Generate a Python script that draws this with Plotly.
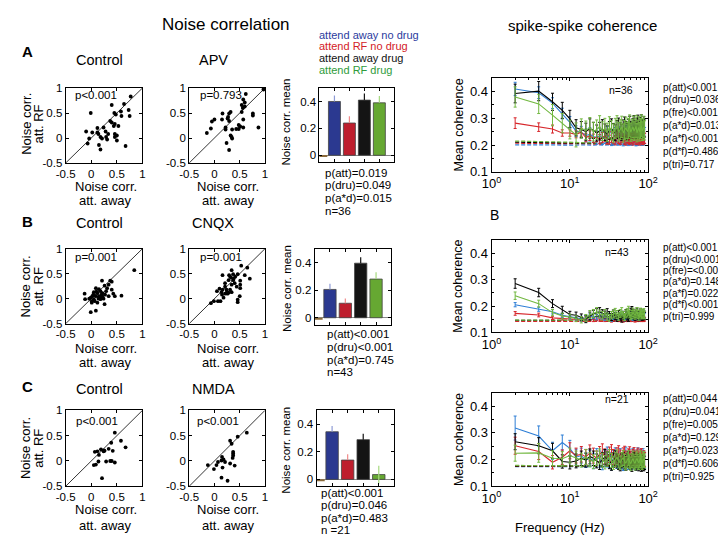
import plotly.graph_objects as go

W, H = 726, 535
FONT = "Liberation Sans, Arial, sans-serif"

# ---------------- data ----------------
# Scatter panels: x = noise corr. attend away, y = noise corr. attend RF
A_ctrl_x = [0.77, 0.40, 0.64, -0.01, 0.58, 0.73, 0.75, 0.59, 0.45, 0.48, 0.37, 0.40, 0.46, 0.44, 0.24, -0.10, 0.02, 0.12,
            0.14, 0.28, 0.33, 0.53, 0.46, 0.50, 0.46, 0.18, 0.21, 0.29, 0.31, -0.04, -0.07, 0.15, 0.18, 0.67, 0.50, 0.12]
A_ctrl_y = [0.83, 0.66, 0.68, 0.50, 0.53, 0.56, 0.44, 0.44, 0.50, 0.47, 0.34, 0.31, 0.28, 0.24, 0.21, 0.13, 0.11, 0.11,
            0.08, 0.13, 0.08, 0.24, 0.08, 0.05, 0.02, 0.02, -0.01, 0.02, -0.03, -0.01, -0.11, -0.14, -0.23, -0.16, -0.05, 0.20]
A_apv_x = [0.97, 0.62, 0.57, 0.60, 0.54, 0.60, 0.56, 0.76, 0.76, 0.54, 0.57, 0.32, 0.29, 0.16, 0.15, 0.00, -0.05, 0.26,
           0.29, -0.07, 0.22, 0.22, 0.35, 0.43, 0.48, 0.51, 0.57, 0.87, -0.15, 0.32, 0.35, 0.24, 0.29, 0.48, 0.27, 0.34]
A_apv_y = [0.97, 0.88, 0.77, 0.71, 0.66, 0.63, 0.60, 0.49, 0.45, 0.52, 0.37, 0.52, 0.49, 0.49, 0.37, 0.37, 0.33, 0.39,
           0.34, 0.19, 0.21, 0.17, 0.17, 0.18, 0.26, 0.23, 0.21, 0.21, 0.10, 0.05, -0.01, -0.10, -0.24, 0.18, 0.42, 0.02]
B_ctrl_x = [0.84, 0.59, 0.40, 0.37, 0.21, 0.34, 0.26, 0.40, 0.43, 0.31, 0.15, 0.09, 0.05, 0.12, 0.18, 0.22, 0.29, -0.13,
            -0.12, -0.01, 0.02, 0.09, 0.15, 0.22, 0.34, 0.24, 0.01, 0.07, 0.12, 0.01, 0.26, -0.01, 0.09, 0.18, 0.10, 0.05,
            0.14, 0.46, 0.27, 0.20, -0.04, 0.04, 0.16]
B_ctrl_y = [0.57, 0.06, 0.34, 0.36, 0.36, 0.28, 0.26, 0.18, 0.10, 0.21, 0.19, 0.21, 0.13, 0.11, 0.15, 0.11, 0.15, 0.10,
            -0.01, 0.02, 0.05, 0.05, 0.05, 0.04, 0.05, 0.00, -0.05, -0.05, -0.08, -0.08, -0.11, -0.27, -0.24, -0.01, 0.14,
            -0.01, 0.00, 0.05, 0.08, 0.08, 0.00, 0.08, 0.02]
B_cnqx_x = [0.53, 0.16, 0.34, 0.37, 0.41, 0.46, 0.31, 0.28, 0.37, 0.40, 0.51, 0.51, 0.51, 0.34, 0.21, 0.24, 0.31, 0.34,
            0.26, 0.21, 0.16, 0.14, 0.15, 0.18, 0.07, -0.01, -0.07, 0.12, 0.46, 0.46, 0.50, 0.29, 0.44, 0.21, 0.65, 0.70,
            0.60, 0.05, 0.28, 0.33, 0.38, 0.24, 0.10]
B_cnqx_y = [0.66, 0.47, 0.57, 0.49, 0.44, 0.49, 0.44, 0.37, 0.37, 0.31, 0.36, 0.28, 0.21, 0.28, 0.24, 0.18, 0.18, 0.13,
            0.10, 0.10, 0.18, 0.13, 0.08, 0.02, -0.05, -0.05, -0.09, -0.05, -0.07, -0.02, 0.05, 0.47, 0.24, 0.31, 0.62,
            0.40, 0.47, 0.15, 0.12, 0.42, 0.40, 0.12, 0.20]
C_ctrl_x = [0.46, 0.58, 0.67, 0.39, 0.34, 0.42, 0.24, 0.26, 0.19, 0.15, 0.07, 0.12, 0.14, 0.29, 0.37, 0.40, 0.46, 0.09,
            0.05, 0.21, 0.25]
C_ctrl_y = [0.56, 0.40, 0.27, 0.36, 0.24, 0.20, 0.19, 0.20, 0.23, 0.12, 0.18, 0.19, -0.01, -0.01, 0.00, 0.00, -0.03,
            -0.07, -0.08, -0.34, 0.21]
C_nmda_x = [0.64, 0.46, 0.31, 0.34, 0.37, 0.37, 0.36, 0.15, 0.18, 0.14, 0.21, 0.07, 0.04, -0.01, -0.13, 0.16, 0.31, 0.40,
            0.14, 0.26, 0.37]
C_nmda_y = [0.56, 0.48, 0.40, 0.34, 0.18, 0.11, 0.06, 0.08, 0.03, 0.01, -0.02, -0.02, -0.08, -0.16, -0.08, -0.13, -0.05,
            -0.09, -0.33, -0.39, 0.15]
DIAG = [-0.5, 1.0]
scatter_p = ["p<0.001", "p=0.793", "p=0.001", "p=0.001", "p<0.001", "p<0.001"]
scatter_titles = ["Control", "APV", "Control", "CNQX", "Control", "NMDA"]

# Bar panels (order: attend away no drug, attend RF no drug, attend away drug, attend RF drug)
bar_names = ["attend away no drug", "attend RF no drug", "attend away drug", "attend RF drug"]
bar_pos = [1, 2, 3, 4]
A_bar = [0.40, 0.24, 0.41, 0.39]
A_bar_err = [0.045, 0.05, 0.05, 0.05]
B_bar = [0.205, 0.105, 0.395, 0.28]
B_bar_err = [0.042, 0.035, 0.043, 0.05]
C_bar = [0.345, 0.14, 0.288, 0.035]
C_bar_err = [0.042, 0.043, 0.042, 0.063]
C_bar_err_minus = [0.0, 0.0, 0.0, 0.064]
stub_pos = [0.25]
stub_val = [-0.008]
A_stats = ["p(att)=0.019", "p(dru)=0.049", "p(a*d)=0.015", "n=36"]
B_stats = ["p(att)<0.001", "p(dru)<0.001", "p(a*d)=0.745", "n=43"]
C_stats = ["p(att)<0.001", "p(dru)=0.046", "p(a*d)=0.483", "n =21"]

# Spike-spike coherence
freqs = [2, 4, 6, 8, 10, 12, 14, 16, 18, 20, 22, 24, 26, 28, 30, 32, 34, 36, 38, 40, 42, 44, 46, 48, 50,
         52, 54, 56, 58, 60, 62, 64, 66, 68, 70, 72, 74, 76, 78, 80, 82, 84, 86, 88, 90]

c1_blue = [0.410, 0.396, 0.357, 0.318, 0.285, 0.252, 0.248, 0.236, 0.240, 0.232,
           0.228, 0.235, 0.226, 0.232, 0.240, 0.228, 0.222, 0.230, 0.236, 0.225,
           0.231, 0.238, 0.227, 0.222, 0.234, 0.241, 0.229, 0.224, 0.233, 0.238,
           0.226, 0.231, 0.242, 0.229, 0.223, 0.235, 0.240, 0.228, 0.232, 0.237,
           0.226, 0.234, 0.239, 0.230, 0.236]
c1_blue_err = [0.025, 0.022, 0.020, 0.020, 0.022, 0.020, 0.022, 0.024, 0.025, 0.022,
               0.025, 0.028, 0.024, 0.026, 0.030, 0.025, 0.024, 0.027, 0.030, 0.025,
               0.028, 0.030, 0.026, 0.025, 0.029, 0.032, 0.027, 0.026, 0.030, 0.031,
               0.026, 0.029, 0.033, 0.028, 0.026, 0.030, 0.032, 0.028, 0.029, 0.031,
               0.027, 0.030, 0.032, 0.029, 0.030]
c1_red = [0.282, 0.267, 0.260, 0.245, 0.245, 0.240, 0.248, 0.228, 0.235, 0.225,
          0.230, 0.222, 0.228, 0.235, 0.224, 0.220, 0.230, 0.226, 0.218, 0.232,
          0.225, 0.220, 0.228, 0.234, 0.222, 0.218, 0.230, 0.226, 0.220, 0.232,
          0.224, 0.218, 0.228, 0.234, 0.222, 0.220, 0.230, 0.225, 0.218, 0.228,
          0.232, 0.222, 0.220, 0.228, 0.225]
c1_red_err = [0.020, 0.016, 0.015, 0.012, 0.012, 0.013, 0.015, 0.016, 0.018, 0.016,
              0.018, 0.017, 0.019, 0.021, 0.018, 0.017, 0.020, 0.019, 0.017, 0.021,
              0.019, 0.018, 0.020, 0.022, 0.019, 0.018, 0.021, 0.020, 0.018, 0.022,
              0.019, 0.018, 0.021, 0.022, 0.019, 0.018, 0.021, 0.020, 0.018, 0.021,
              0.022, 0.019, 0.018, 0.020, 0.019]
c1_black = [0.393, 0.402, 0.362, 0.330, 0.298, 0.265, 0.258, 0.250, 0.262, 0.255,
            0.245, 0.252, 0.260, 0.248, 0.242, 0.255, 0.262, 0.250, 0.246, 0.258,
            0.265, 0.252, 0.248, 0.260, 0.268, 0.255, 0.250, 0.262, 0.270, 0.256,
            0.252, 0.264, 0.272, 0.258, 0.254, 0.266, 0.274, 0.260, 0.256, 0.268,
            0.275, 0.262, 0.258, 0.270, 0.264]
c1_black_err = [0.035, 0.036, 0.032, 0.030, 0.032, 0.030, 0.030, 0.032, 0.036, 0.030,
                0.030, 0.033, 0.035, 0.031, 0.030, 0.033, 0.036, 0.031, 0.030, 0.034,
                0.036, 0.032, 0.030, 0.034, 0.037, 0.033, 0.031, 0.035, 0.038, 0.033,
                0.031, 0.035, 0.038, 0.033, 0.031, 0.035, 0.038, 0.034, 0.032, 0.036,
                0.038, 0.034, 0.032, 0.036, 0.034]
c1_green = [0.380, 0.354, 0.312, 0.282, 0.258, 0.238, 0.262, 0.255, 0.265, 0.250,
            0.258, 0.270, 0.252, 0.262, 0.248, 0.266, 0.255, 0.245, 0.262, 0.270,
            0.250, 0.258, 0.268, 0.245, 0.256, 0.265, 0.250, 0.262, 0.272, 0.248,
            0.258, 0.268, 0.252, 0.260, 0.270, 0.246, 0.256, 0.266, 0.250, 0.262,
            0.272, 0.252, 0.260, 0.268, 0.255]
c1_green_err = [0.038, 0.036, 0.040, 0.036, 0.035, 0.045, 0.036, 0.035, 0.038, 0.035,
                0.036, 0.040, 0.035, 0.038, 0.034, 0.040, 0.036, 0.034, 0.038, 0.040,
                0.035, 0.037, 0.040, 0.034, 0.036, 0.040, 0.035, 0.038, 0.041, 0.034,
                0.037, 0.040, 0.035, 0.038, 0.041, 0.034, 0.037, 0.040, 0.035, 0.038,
                0.041, 0.035, 0.038, 0.040, 0.036]
c1_blue_d = [0.201, 0.200, 0.201, 0.200, 0.199, 0.200, 0.201, 0.200, 0.199, 0.200,
             0.201, 0.200, 0.199, 0.200, 0.201, 0.200, 0.199, 0.200, 0.201, 0.200,
             0.199, 0.200, 0.201, 0.200, 0.199, 0.200, 0.201, 0.200, 0.199, 0.200,
             0.201, 0.200, 0.199, 0.200, 0.201, 0.200, 0.199, 0.200, 0.201, 0.200,
             0.199, 0.200, 0.201, 0.200, 0.200]
c1_red_d = [0.207, 0.207, 0.206, 0.206, 0.206, 0.205, 0.205, 0.205, 0.205, 0.204,
            0.204, 0.204, 0.204, 0.204, 0.203, 0.203, 0.204, 0.203, 0.203, 0.203,
            0.203, 0.202, 0.203, 0.203, 0.202, 0.202, 0.203, 0.202, 0.202, 0.202,
            0.203, 0.202, 0.202, 0.202, 0.202, 0.201, 0.202, 0.202, 0.201, 0.202,
            0.202, 0.201, 0.202, 0.201, 0.201]
c1_black_d = [0.211, 0.210, 0.210, 0.209, 0.209, 0.208, 0.208, 0.208, 0.207, 0.207,
              0.207, 0.207, 0.206, 0.206, 0.206, 0.206, 0.206, 0.205, 0.206, 0.205,
              0.205, 0.205, 0.205, 0.205, 0.204, 0.205, 0.204, 0.204, 0.205, 0.204,
              0.204, 0.204, 0.204, 0.203, 0.204, 0.204, 0.203, 0.204, 0.203, 0.203,
              0.204, 0.203, 0.203, 0.203, 0.203]
c1_green_d = [0.215, 0.214, 0.213, 0.212, 0.211, 0.210, 0.209, 0.209, 0.208, 0.208,
              0.207, 0.207, 0.207, 0.206, 0.206, 0.206, 0.206, 0.205, 0.205, 0.205,
              0.205, 0.205, 0.204, 0.205, 0.204, 0.204, 0.204, 0.204, 0.204, 0.203,
              0.204, 0.203, 0.204, 0.203, 0.203, 0.203, 0.203, 0.203, 0.203, 0.202,
              0.203, 0.202, 0.203, 0.202, 0.202]

c2_blue = [0.205, 0.188, 0.178, 0.165, 0.158, 0.155, 0.152, 0.156, 0.160, 0.162,
           0.158, 0.165, 0.160, 0.155, 0.162, 0.158, 0.152, 0.160, 0.165, 0.158,
           0.155, 0.162, 0.168, 0.160, 0.154, 0.160, 0.165, 0.158, 0.162, 0.168,
           0.160, 0.155, 0.162, 0.166, 0.158, 0.164, 0.170, 0.160, 0.156, 0.164,
           0.168, 0.160, 0.165, 0.170, 0.162]
c2_blue_err = [0.008, 0.008, 0.008, 0.008, 0.008, 0.008, 0.009, 0.009, 0.010, 0.010,
               0.010, 0.011, 0.010, 0.010, 0.011, 0.010, 0.010, 0.011, 0.011, 0.010,
               0.010, 0.011, 0.012, 0.011, 0.010, 0.011, 0.012, 0.011, 0.011, 0.012,
               0.011, 0.010, 0.011, 0.012, 0.011, 0.011, 0.012, 0.011, 0.010, 0.011,
               0.012, 0.011, 0.011, 0.012, 0.011]
c2_red = [0.172, 0.166, 0.155, 0.153, 0.152, 0.150, 0.148, 0.152, 0.150, 0.148,
          0.152, 0.150, 0.155, 0.148, 0.152, 0.150, 0.146, 0.152, 0.155, 0.150,
          0.148, 0.152, 0.150, 0.146, 0.150, 0.154, 0.148, 0.150, 0.152, 0.148,
          0.150, 0.154, 0.150, 0.146, 0.150, 0.152, 0.148, 0.150, 0.154, 0.150,
          0.148, 0.152, 0.150, 0.148, 0.150]
c2_red_err = [0.007, 0.007, 0.006, 0.006, 0.006, 0.006, 0.006, 0.007, 0.007, 0.007,
              0.007, 0.007, 0.008, 0.007, 0.007, 0.007, 0.007, 0.008, 0.008, 0.007,
              0.007, 0.008, 0.007, 0.007, 0.007, 0.008, 0.007, 0.007, 0.008, 0.007,
              0.007, 0.008, 0.007, 0.007, 0.007, 0.008, 0.007, 0.007, 0.008, 0.007,
              0.007, 0.008, 0.007, 0.007, 0.007]
c2_black = [0.285, 0.251, 0.209, 0.185, 0.168, 0.165, 0.158, 0.150, 0.162, 0.170,
            0.175, 0.178, 0.172, 0.168, 0.175, 0.165, 0.158, 0.170, 0.162, 0.155,
            0.168, 0.160, 0.152, 0.165, 0.158, 0.170, 0.162, 0.155, 0.168, 0.175,
            0.180, 0.172, 0.165, 0.160, 0.170, 0.175, 0.165, 0.158, 0.168, 0.172,
            0.165, 0.160, 0.170, 0.165, 0.162]
c2_black_err = [0.018, 0.016, 0.015, 0.014, 0.012, 0.012, 0.012, 0.013, 0.015, 0.014,
                0.015, 0.016, 0.014, 0.013, 0.015, 0.014, 0.013, 0.015, 0.014, 0.013,
                0.015, 0.014, 0.013, 0.015, 0.014, 0.016, 0.015, 0.013, 0.015, 0.017,
                0.018, 0.016, 0.015, 0.014, 0.016, 0.017, 0.015, 0.014, 0.016, 0.017,
                0.015, 0.014, 0.016, 0.015, 0.014]
c2_green = [0.239, 0.209, 0.175, 0.162, 0.158, 0.152, 0.148, 0.155, 0.168, 0.172,
            0.178, 0.170, 0.165, 0.172, 0.160, 0.155, 0.165, 0.170, 0.175, 0.168,
            0.160, 0.172, 0.178, 0.165, 0.158, 0.170, 0.175, 0.182, 0.170, 0.162,
            0.168, 0.176, 0.170, 0.164, 0.172, 0.178, 0.168, 0.160, 0.170, 0.176,
            0.165, 0.172, 0.168, 0.174, 0.166]
c2_green_err = [0.014, 0.013, 0.012, 0.011, 0.011, 0.011, 0.012, 0.013, 0.015, 0.015,
                0.016, 0.015, 0.014, 0.015, 0.014, 0.013, 0.014, 0.015, 0.016, 0.015,
                0.014, 0.015, 0.016, 0.014, 0.013, 0.015, 0.016, 0.017, 0.015, 0.014,
                0.015, 0.016, 0.015, 0.014, 0.015, 0.016, 0.015, 0.014, 0.015, 0.016,
                0.014, 0.015, 0.015, 0.016, 0.015]
c2_blue_d = [0.144, 0.144, 0.143, 0.144, 0.143, 0.143, 0.144, 0.143, 0.143, 0.144,
             0.143, 0.143, 0.144, 0.143, 0.143, 0.144, 0.143, 0.143, 0.144, 0.143,
             0.143, 0.144, 0.143, 0.143, 0.144, 0.143, 0.143, 0.144, 0.143, 0.143,
             0.144, 0.143, 0.143, 0.144, 0.143, 0.143, 0.144, 0.143, 0.143, 0.144,
             0.143, 0.143, 0.144, 0.143, 0.143]
c2_red_d = [0.142, 0.142, 0.142, 0.141, 0.142, 0.142, 0.141, 0.142, 0.142, 0.141,
            0.142, 0.142, 0.141, 0.142, 0.142, 0.141, 0.142, 0.142, 0.141, 0.142,
            0.142, 0.141, 0.142, 0.142, 0.141, 0.142, 0.142, 0.141, 0.142, 0.142,
            0.141, 0.142, 0.142, 0.141, 0.142, 0.142, 0.141, 0.142, 0.142, 0.141,
            0.142, 0.142, 0.141, 0.142, 0.142]
c2_black_d = [0.146, 0.146, 0.145, 0.146, 0.145, 0.145, 0.146, 0.145, 0.145, 0.146,
              0.145, 0.145, 0.146, 0.145, 0.145, 0.146, 0.145, 0.145, 0.146, 0.145,
              0.145, 0.146, 0.145, 0.145, 0.146, 0.145, 0.145, 0.146, 0.145, 0.145,
              0.146, 0.145, 0.145, 0.146, 0.145, 0.145, 0.146, 0.145, 0.145, 0.146,
              0.145, 0.145, 0.146, 0.145, 0.145]
c2_green_d = [0.147, 0.147, 0.146, 0.146, 0.146, 0.146, 0.145, 0.146, 0.146, 0.145,
              0.146, 0.145, 0.146, 0.145, 0.145, 0.146, 0.145, 0.145, 0.146, 0.145,
              0.145, 0.146, 0.145, 0.145, 0.145, 0.146, 0.145, 0.145, 0.145, 0.146,
              0.145, 0.145, 0.145, 0.146, 0.145, 0.145, 0.145, 0.146, 0.145, 0.145,
              0.145, 0.146, 0.145, 0.145, 0.145]

c3_blue = [0.318, 0.288, 0.233, 0.264, 0.242, 0.209, 0.215, 0.198, 0.205, 0.195,
           0.210, 0.202, 0.190, 0.205, 0.215, 0.198, 0.188, 0.205, 0.212, 0.195,
           0.200, 0.210, 0.192, 0.186, 0.205, 0.215, 0.198, 0.190, 0.208, 0.200,
           0.192, 0.210, 0.204, 0.195, 0.188, 0.206, 0.212, 0.198, 0.192, 0.208,
           0.200, 0.194, 0.210, 0.202, 0.196]
c3_blue_err = [0.045, 0.038, 0.032, 0.028, 0.030, 0.030, 0.028, 0.027, 0.030, 0.029,
               0.031, 0.030, 0.028, 0.030, 0.032, 0.029, 0.027, 0.030, 0.032, 0.028,
               0.029, 0.031, 0.028, 0.027, 0.030, 0.032, 0.029, 0.027, 0.031, 0.030,
               0.028, 0.031, 0.030, 0.029, 0.027, 0.030, 0.032, 0.029, 0.028, 0.031,
               0.030, 0.028, 0.031, 0.030, 0.029]
c3_red = [0.252, 0.230, 0.190, 0.209, 0.233, 0.215, 0.220, 0.210, 0.225, 0.215,
          0.205, 0.220, 0.228, 0.212, 0.205, 0.218, 0.225, 0.210, 0.200, 0.215,
          0.222, 0.208, 0.200, 0.215, 0.220, 0.205, 0.198, 0.212, 0.218, 0.205,
          0.198, 0.210, 0.216, 0.204, 0.196, 0.208, 0.214, 0.202, 0.196, 0.208,
          0.212, 0.200, 0.195, 0.205, 0.200]
c3_red_err = [0.032, 0.030, 0.025, 0.027, 0.030, 0.028, 0.029, 0.028, 0.030, 0.028,
              0.027, 0.029, 0.031, 0.028, 0.027, 0.029, 0.031, 0.028, 0.026, 0.029,
              0.030, 0.028, 0.026, 0.029, 0.030, 0.027, 0.026, 0.028, 0.030, 0.027,
              0.026, 0.028, 0.029, 0.027, 0.026, 0.028, 0.029, 0.027, 0.026, 0.028,
              0.029, 0.027, 0.026, 0.028, 0.027]
c3_black = [0.267, 0.252, 0.233, 0.193, 0.190, 0.195, 0.205, 0.198, 0.212, 0.205,
            0.195, 0.188, 0.200, 0.210, 0.202, 0.192, 0.185, 0.198, 0.205, 0.195,
            0.188, 0.182, 0.195, 0.200, 0.190, 0.184, 0.196, 0.202, 0.192, 0.186,
            0.180, 0.194, 0.200, 0.190, 0.184, 0.196, 0.190, 0.182, 0.194, 0.188,
            0.180, 0.192, 0.186, 0.182, 0.188]
c3_black_err = [0.030, 0.030, 0.028, 0.025, 0.025, 0.026, 0.027, 0.026, 0.028, 0.027,
                0.026, 0.025, 0.027, 0.028, 0.027, 0.026, 0.025, 0.027, 0.028, 0.026,
                0.025, 0.024, 0.026, 0.027, 0.025, 0.024, 0.026, 0.027, 0.025, 0.024,
                0.024, 0.026, 0.027, 0.025, 0.024, 0.026, 0.025, 0.024, 0.026, 0.025,
                0.024, 0.026, 0.025, 0.024, 0.025]
c3_green = [0.224, 0.225, 0.205, 0.203, 0.215, 0.205, 0.198, 0.210, 0.200, 0.192,
            0.205, 0.212, 0.198, 0.190, 0.202, 0.210, 0.196, 0.188, 0.200, 0.208,
            0.195, 0.188, 0.200, 0.206, 0.194, 0.186, 0.198, 0.205, 0.192, 0.185,
            0.196, 0.204, 0.192, 0.186, 0.198, 0.204, 0.194, 0.188, 0.198, 0.205,
            0.194, 0.188, 0.198, 0.202, 0.195]
c3_green_err = [0.030, 0.035, 0.028, 0.027, 0.028, 0.027, 0.026, 0.028, 0.027, 0.026,
                0.027, 0.028, 0.026, 0.025, 0.027, 0.028, 0.026, 0.025, 0.027, 0.028,
                0.026, 0.025, 0.027, 0.028, 0.026, 0.025, 0.027, 0.028, 0.026, 0.025,
                0.026, 0.028, 0.026, 0.025, 0.027, 0.028, 0.026, 0.025, 0.027, 0.028,
                0.026, 0.025, 0.027, 0.028, 0.026]
c3_blue_d = [0.174, 0.174, 0.173, 0.174, 0.174, 0.173, 0.174, 0.174, 0.173, 0.174,
             0.174, 0.173, 0.174, 0.174, 0.173, 0.174, 0.174, 0.173, 0.174, 0.174,
             0.173, 0.174, 0.174, 0.173, 0.174, 0.174, 0.173, 0.174, 0.174, 0.173,
             0.174, 0.174, 0.173, 0.174, 0.174, 0.173, 0.174, 0.174, 0.173, 0.174,
             0.174, 0.173, 0.174, 0.174, 0.173]
c3_red_d = [0.175, 0.175, 0.175, 0.174, 0.175, 0.175, 0.174, 0.175, 0.175, 0.174,
            0.175, 0.175, 0.174, 0.175, 0.175, 0.174, 0.175, 0.175, 0.174, 0.175,
            0.175, 0.174, 0.175, 0.175, 0.174, 0.175, 0.175, 0.174, 0.175, 0.175,
            0.174, 0.175, 0.175, 0.174, 0.175, 0.175, 0.174, 0.175, 0.175, 0.174,
            0.175, 0.175, 0.174, 0.175, 0.175]
c3_black_d = [0.176, 0.176, 0.176, 0.175, 0.176, 0.176, 0.175, 0.176, 0.176, 0.175,
              0.176, 0.176, 0.175, 0.176, 0.176, 0.175, 0.176, 0.176, 0.175, 0.176,
              0.176, 0.175, 0.176, 0.176, 0.175, 0.176, 0.176, 0.175, 0.176, 0.176,
              0.175, 0.176, 0.176, 0.175, 0.176, 0.176, 0.175, 0.176, 0.176, 0.175,
              0.176, 0.176, 0.175, 0.176, 0.176]
c3_green_d = [0.178, 0.178, 0.177, 0.177, 0.177, 0.176, 0.177, 0.176, 0.176, 0.176,
              0.176, 0.176, 0.175, 0.176, 0.176, 0.175, 0.176, 0.176, 0.175, 0.176,
              0.176, 0.175, 0.176, 0.176, 0.175, 0.176, 0.176, 0.175, 0.176, 0.176,
              0.175, 0.176, 0.176, 0.175, 0.176, 0.176, 0.175, 0.176, 0.176, 0.175,
              0.176, 0.176, 0.175, 0.176, 0.176]

coh_ns = ["n=36", "n=43", "n=21"]
coh_stats = [
    ["p(att)<0.001", "p(dru)=0.036", "p(fre)<0.001", "p(a*d)=0.013", "p(a*f)<0.001", "p(d*f)=0.486", "p(tri)=0.717"],
    ["p(att)<0.001", "p(dru)<0.001", "p(fre)=<0.001", "p(a*d)=0.148", "p(a*f)=0.022", "p(d*f)<0.001", "p(tri)=0.999"],
    ["p(att)=0.044", "p(dru)=0.041", "p(fre)=0.005", "p(a*d)=0.129", "p(a*f)=0.023", "p(d*f)=0.606", "p(tri)=0.925"],
]

# ---------------- styling ----------------
BAR_COL = ["#2b3990", "#be1e2d", "#141414", "#66a832"]
BAR_ERR = ["#8e9bd6", "#f08a8a", "#141414", "#a6d97f"]
LEG_COL = ["#2b3b9e", "#d32027", "#111111", "#2e9b3a"]
COH_COL = {"blue": "#2f7fd6", "red": "#d7262b", "black": "#000000", "green": "#72b840"}


def px_dom(x0, x1, y0, y1):
    return [x0 / W, x1 / W], [1 - y1 / H, 1 - y0 / H]


fig = go.Figure()
layout = {}
annotations = []


def ann(text, x, y, size, color="black", xanchor="center", yanchor="middle", angle=0):
    annotations.append(dict(text=text, x=x / W, y=1 - y / H, xref="paper", yref="paper",
                            showarrow=False, xanchor=xanchor, yanchor=yanchor, textangle=angle,
                            borderpad=0, font=dict(family=FONT, size=size, color=color)))


def base_axis(dom, tickfont=11.5):
    return dict(domain=dom, showline=True, linecolor="black", linewidth=1, mirror="ticks",
                ticks="inside", ticklen=3, tickcolor="black", tickwidth=1, showgrid=False,
                zeroline=False, tickfont=dict(family=FONT, size=tickfont, color="black"), fixedrange=True)


def ax_name(i, kind):
    return kind + ("axis" if i == 1 else "axis%d" % i)


def ref(i, kind):
    return kind if i == 1 else kind + str(i)


# scatter panels
scat_boxes = [(49, 128, 76, 153), (176, 254, 76, 153), (49, 128, 241, 318),
              (176, 254, 241, 318), (49, 128, 407, 485), (176, 254, 407, 485)]
scat_data = [(A_ctrl_x, A_ctrl_y), (A_apv_x, A_apv_y), (B_ctrl_x, B_ctrl_y),
             (B_cnqx_x, B_cnqx_y), (C_ctrl_x, C_ctrl_y), (C_nmda_x, C_nmda_y)]
p_pos = [(58, 83), (186, 83), (58, 250), (186, 250), (59, 418), (183, 418)]
for k, (box, (sx, sy)) in enumerate(zip(scat_boxes, scat_data)):
    i = k + 1
    xd, yd = px_dom(*box)
    xa = base_axis(xd)
    xa.update(range=[-0.5, 1.0], tickvals=[-0.5, 0, 0.5, 1], ticktext=["-0.5", "0", "0.5", "1"],
              anchor=ref(i, "y"))
    ya = base_axis(yd)
    ya.update(range=[-0.5, 1.0], tickvals=[-0.5, 0, 0.5, 1], ticktext=["-0.5", "0", "0.5", "1"],
              anchor=ref(i, "x"))
    layout[ax_name(i, "x")] = xa
    layout[ax_name(i, "y")] = ya
    fig.add_trace(go.Scatter(x=DIAG, y=DIAG, mode="lines", line=dict(color="black", width=0.8),
                             xaxis=ref(i, "x"), yaxis=ref(i, "y"), hoverinfo="skip"))
    fig.add_trace(go.Scatter(x=sx, y=sy, mode="markers", marker=dict(size=3.8, color="black"),
                             xaxis=ref(i, "x"), yaxis=ref(i, "y")))
    ann(scatter_p[k], p_pos[k][0], p_pos[k][1], 11.5, xanchor="left")

# bar panels
bar_boxes = [(310, 387, 76, 152), (305, 384, 241, 319), (307, 387, 407, 485)]
bar_vals = [(A_bar, A_bar_err, [0, 0, 0, 0]), (B_bar, B_bar_err, [0, 0, 0, 0]),
            (C_bar, C_bar_err, C_bar_err_minus)]
for k, (box, (vals, eplus, eminus)) in enumerate(zip(bar_boxes, bar_vals)):
    i = 7 + k
    xd, yd = px_dom(*box)
    xa = base_axis(xd)
    xa.update(range=[0, 5], tickvals=bar_pos, showticklabels=False, anchor=ref(i, "y"))
    ya = base_axis(yd)
    ya.update(range=[-0.05, 0.5], tickvals=[0, 0.2, 0.4], ticktext=["0", "0.2", "0.4"],
              zeroline=True, zerolinecolor="#8a8a8a", zerolinewidth=1, anchor=ref(i, "x"))
    layout[ax_name(i, "x")] = xa
    layout[ax_name(i, "y")] = ya
    fig.add_trace(go.Bar(x=stub_pos, y=stub_val, width=0.55, marker=dict(color="#8a6a3a", line=dict(width=0)),
                         xaxis=ref(i, "x"), yaxis=ref(i, "y")))
    for j in range(4):
        fig.add_trace(go.Bar(x=[bar_pos[j]], y=[vals[j]], width=0.8, name=bar_names[j],
                             marker=dict(color=BAR_COL[j], line=dict(color="#444444", width=0.8)),
                             error_y=dict(type="data", array=[eplus[j]], arrayminus=[eminus[j]],
                                          color=BAR_ERR[j], thickness=1.2, width=0, symmetric=False),
                             xaxis=ref(i, "x"), yaxis=ref(i, "y")))

# coherence panels
coh_boxes = [(487, 648, 66, 162), (487, 648, 232, 327), (487, 648, 389, 485)]
coh_sets = [
    dict(solid=[("blue", c1_blue, c1_blue_err), ("red", c1_red, c1_red_err),
                ("black", c1_black, c1_black_err), ("green", c1_green, c1_green_err)],
         dashed=[("blue", c1_blue_d), ("red", c1_red_d), ("black", c1_black_d), ("green", c1_green_d)]),
    dict(solid=[("red", c2_red, c2_red_err), ("blue", c2_blue, c2_blue_err),
                ("black", c2_black, c2_black_err), ("green", c2_green, c2_green_err)],
         dashed=[("blue", c2_blue_d), ("red", c2_red_d), ("black", c2_black_d), ("green", c2_green_d)]),
    dict(solid=[("blue", c3_blue, c3_blue_err), ("red", c3_red, c3_red_err),
                ("black", c3_black, c3_black_err), ("green", c3_green, c3_green_err)],
         dashed=[("blue", c3_blue_d), ("red", c3_red_d), ("black", c3_black_d), ("green", c3_green_d)]),
]
minor_x = [2, 3, 4, 5, 6, 7, 8, 9, 20, 30, 40, 50, 60, 70, 80, 90]
for k, (box, sets) in enumerate(zip(coh_boxes, coh_sets)):
    i = 10 + k
    xd, yd = px_dom(*box)
    xa = base_axis(xd, tickfont=13)
    xa.update(type="log", range=[0, 2], tickvals=[1, 10, 100],
              ticktext=["10<sup>0</sup>", "10<sup>1</sup>", "10<sup>2</sup>"], anchor=ref(i, "y"),
              minor=dict(ticks="inside", ticklen=2, tickcolor="black", tickvals=minor_x, showgrid=False))
    ya = base_axis(yd, tickfont=13)
    ya.update(range=[0.1, 0.45], tickvals=[0.1, 0.2, 0.3, 0.4], ticktext=["0.1", "0.2", "0.3", "0.4"],
              anchor=ref(i, "x"), minor=dict(ticks="inside", ticklen=2, tickcolor="black", dtick=0.05))
    layout[ax_name(i, "x")] = xa
    layout[ax_name(i, "y")] = ya
    for col, vals in sets["dashed"]:
        fig.add_trace(go.Scatter(x=freqs, y=vals, mode="lines",
                                 line=dict(color=COH_COL[col], width=1.3, dash="4px,2px"),
                                 xaxis=ref(i, "x"), yaxis=ref(i, "y")))
    for col, vals, err in sets["solid"]:
        fig.add_trace(go.Scatter(x=freqs, y=vals, mode="lines", line=dict(color=COH_COL[col], width=1.1),
                                 error_y=dict(type="data", array=err, color=COH_COL[col], thickness=1, width=1.5),
                                 xaxis=ref(i, "x"), yaxis=ref(i, "y")))
    ann("Mean coherence", 453, (box[2] + box[3]) / 2, 12.5, angle=-90)

# ---------------- texts ----------------
ann("Noise correlation", 214, 11, 17)
ann("spike-spike coherence", 581, 12, 15)
ann("<b>A</b>", 10, 39, 15)
ann("<b>B</b>", 10, 213, 15)
ann("<b>C</b>", 10, 383, 15)
title_pos = [(84, 47), (201, 47), (84, 215), (201, 215), (84, 385), (201, 385)]
for t, (x, y) in zip(scatter_titles, title_pos):
    ann(t, x, y, 14.5)
for yc in [113, 280, 446]:
    ann("Noise corr.", 8, yc, 13, angle=-90)
    ann("att. RF", 21, yc, 13, angle=-90)
xl_rows = [(177, 192), (343, 358), (509, 525)]
for (y1, y2) in xl_rows:
    for xc in [90, 216]:
        ann("Noise corr.", xc, y1, 13)
        ann("att. away", xc, y2, 13)
for yc in [111, 282, 448]:
    ann("Noise corr. mean", 276, yc, 11.5, angle=-90)
for name, col, y in zip(bar_names, LEG_COL, [22, 33, 45, 57]):
    ann(name, 308, y, 11, color=col, xanchor="left")
for stats, x0, y0, dy in [(A_stats, 315, 163, 13), (B_stats, 317, 329, 13), (C_stats, 311, 492, 12.7)]:
    for j, s in enumerate(stats):
        ann(s, x0, y0 + dy * j, 11.5, xanchor="left")
ann("B", 490, 206, 14)
n_pos = [(620, 78), (616, 244), (616, 395)]
for s, (x, y) in zip(coh_ns, n_pos):
    ann(s, x, y, 10.5)
stat_y = [(75, 13.3), (240, 11.7), (395, 13.3)]
for stats, (y0, dy) in zip(coh_stats, stat_y):
    for j, s in enumerate(stats):
        ann(s, 662, y0 + dy * j, 10, xanchor="left")
ann("Frequency (Hz)", 557, 527, 13)

layout.update(width=W, height=H, margin=dict(l=0, r=0, t=0, b=0), paper_bgcolor="white",
              plot_bgcolor="white", showlegend=False, barmode="overlay", annotations=annotations,
              font=dict(family=FONT, color="black"))
fig.update_layout(**layout)
fig.write_html("out.html")
